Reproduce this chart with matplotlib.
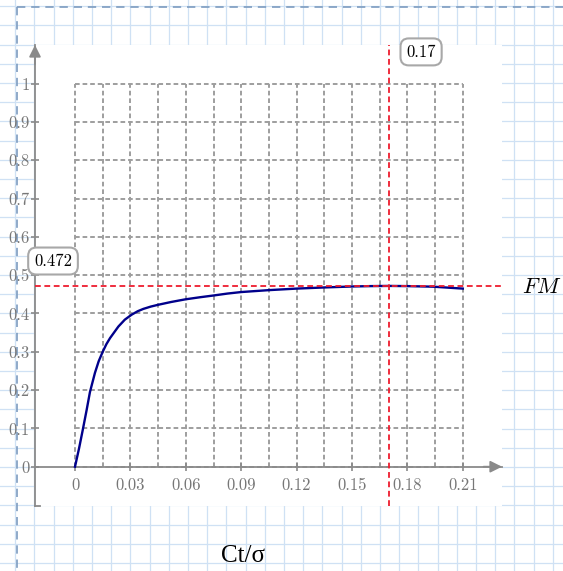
import numpy as np
import matplotlib
matplotlib.use("Agg")
import matplotlib.pyplot as plt

# Ct/sigma and figure of merit
ct_sigma = [0, 0.0022, 0.0042, 0.0063, 0.0081, 0.0108, 0.0128, 0.015, 0.017, 0.019,
            0.0235, 0.027, 0.0307, 0.034, 0.037, 0.041, 0.0448, 0.052, 0.0598,
            0.0678, 0.075, 0.0825, 0.09, 0.105, 0.12, 0.135, 0.15, 0.16, 0.17,
            0.18, 0.194, 0.21]
fm = [0, 0.048, 0.096, 0.148, 0.195, 0.245, 0.275, 0.300, 0.320, 0.336,
      0.366, 0.384, 0.397, 0.406, 0.412, 0.418, 0.4225, 0.430, 0.437,
      0.4425, 0.447, 0.452, 0.456, 0.461, 0.465, 0.468, 0.4705, 0.4715, 0.472,
      0.4715, 0.470, 0.465]

ct_opt = 0.17
fm_max = 0.472

xticks = [0, 0.03, 0.06, 0.09, 0.12, 0.15, 0.18, 0.21]
yticks = [0, 0.1, 0.2, 0.3, 0.4, 0.5, 0.6, 0.7, 0.8, 0.9, 1]
xgrid = [i * 0.015 for i in range(15)]

W, H = 563, 571
fig = plt.figure(figsize=(W / 100, H / 100), dpi=100)
fig.patch.set_facecolor("white")
plt.rcParams["mathtext.fontset"] = "cm"

# graph paper background
bg = fig.add_axes([0, 0, 1, 1], zorder=-1)
bg.set_xlim(0, W)
bg.set_ylim(H, 0)
bg.axis("off")
paper = "#cfe1f4"
for k in range(30):
    bg.axvline(15.2 + 19.2 * k, color=paper, lw=0.9)
    bg.axhline(6.2 + 19.2 * k, color=paper, lw=0.9)
bg.plot([16.7, 16.7], [6.7, H], color="#7d9cc0", lw=1.2, dashes=(5, 3.5))
bg.plot([16.7, W], [6.7, 6.7], color="#7d9cc0", lw=1.2, dashes=(5, 3.5))

# main plot area (white)
x0, x1 = -0.02166, 0.23122
y0, y1 = -0.1026, 1.101
ax = fig.add_axes([35 / W, 1 - 506 / H, 467 / W, 461 / H], zorder=1)
ax.set_facecolor("white")
ax.set_xlim(x0, x1)
ax.set_ylim(y0, y1)

axis_col = "#8a8a8a"
for s in ["top", "right"]:
    ax.spines[s].set_visible(False)
ax.spines["bottom"].set_position(("data", 0))
for s in ["left", "bottom"]:
    ax.spines[s].set_color(axis_col)
    ax.spines[s].set_linewidth(1.3)

lab_font = dict(family="cmr10", size=12, color="#777777")
ax.set_xticks(xticks)
ax.set_xticklabels([f"{v:g}" for v in xticks], **lab_font)
ax.set_yticks(yticks)
ax.set_yticklabels([f"{v:g}" for v in yticks], **lab_font)
ax.tick_params(axis="both", direction="inout", length=6, width=1.2, color=axis_col)
ax.tick_params(axis="x", pad=5)
ax.tick_params(axis="y", pad=1)

# axis arrows
arrow = dict(arrowstyle="-|>,head_length=0.5,head_width=0.25", color=axis_col,
             lw=1.3, mutation_scale=14, shrinkA=0, shrinkB=0)
ax.annotate("", xy=(x0, y1), xytext=(x0, y1 - 0.05), arrowprops=arrow,
            annotation_clip=False)
ax.annotate("", xy=(x1, 0), xytext=(x1 - 0.01, 0), arrowprops=arrow,
            annotation_clip=False)
ax.plot([x0, x0 + 0.0028], [y0, y0], color=axis_col, lw=1.3, clip_on=False)

# dashed grid
grid_kw = dict(color="#9e9e9e", lw=1.4, linestyles=(0, (2.4, 1.5)), zorder=1)
ax.vlines(xgrid, 0, 1, **grid_kw)
ax.hlines(yticks, 0, 0.21, **grid_kw)

# curve
ax.plot(ct_sigma, fm, color="#00008b", lw=1.7, zorder=3)

# markers at the maximum
ax.axvline(ct_opt, color="#ee1c2e", lw=1.3, dashes=(3.2, 2), zorder=4)
ax.axhline(fm_max, color="#ee1c2e", lw=1.3, dashes=(3.2, 2), zorder=4)

box = dict(boxstyle="round,pad=0.35,rounding_size=0.5", fc="white",
           ec="#a8a8a8", lw=1.5)
ax.text(-0.0119, 0.537, f"{fm_max:.3f}", family="cmr10", size=12, color="black",
        ha="center", va="center", bbox=box, zorder=6)
ax.text(0.1874, 1.083, f"{ct_opt:g}", family="cmr10", size=12, color="black",
        ha="center", va="center", bbox=box, zorder=6)

fig.text(542 / W, 1 - 287 / H, r"$FM$", size=16, color="black",
         ha="center", va="center")
fig.text(243 / W, 1 - 556 / H, "Ct/σ", family="Liberation Serif", size=18,
         color="black", ha="center", va="center")

fig.savefig("out.png", dpi=100)
